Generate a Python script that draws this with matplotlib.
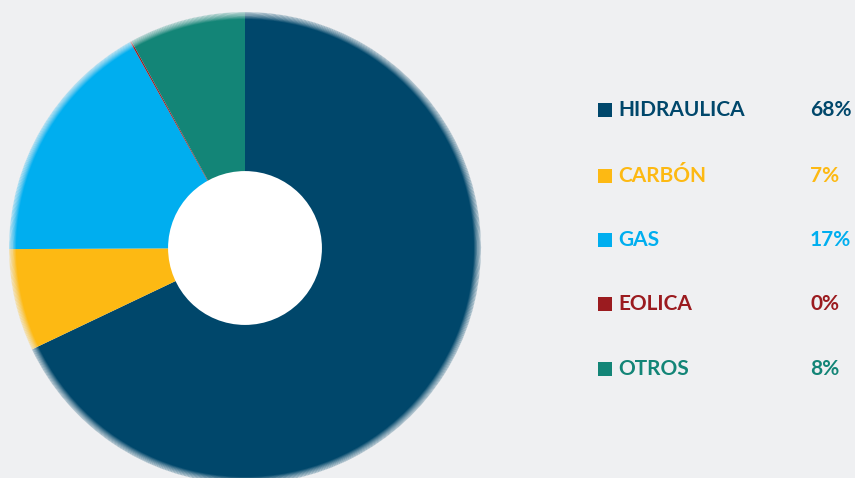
import numpy as np
import matplotlib.pyplot as plt
from matplotlib.patches import Wedge, Circle, Rectangle

# datos de la matriz de generación
fuentes = ['HIDRAULICA', 'CARBÓN', 'GAS', 'EOLICA', 'OTROS']
porcentajes = [68, 7, 17, 0.1, 8]
etiquetas_pct = ['68%', '7%', '17%', '0%', '8%']
colores = ['#00476b', '#fdb913', '#00aeef', '#9b1b1f', '#138577']

fondo = '#eff0f2'

fig = plt.figure(figsize=(8.55, 4.78), dpi=100)
fig.patch.set_facecolor(fondo)

# ejes de la dona: centro (245, 248) px, radio 236 px
W, H = 855, 478
cx, cy, r = 245, 248, 236
ax = fig.add_axes([(cx - r) / W, (H - cy - r) / H, 2 * r / W, 2 * r / H])

ax.pie(porcentajes, colors=colores, startangle=90, counterclock=False,
       radius=1.0, wedgeprops=dict(linewidth=0))

# borde difuminado
for i, rr in enumerate(np.linspace(0.97, 1.0, 10)):
    ax.add_patch(Wedge((0, 0), rr + 0.004, 0, 360, width=0.004,
                       facecolor=fondo, alpha=0.08 + 0.09 * i, linewidth=0))

ax.add_patch(Circle((0, 0), 0.326, facecolor='white', linewidth=0, zorder=5))

ax.set_xlim(-1, 1)
ax.set_ylim(-1, 1)
ax.set_aspect('equal')
ax.axis('off')

# leyenda
filas_y = [110, 176, 240, 304, 369]
for nombre, pct, col, y in zip(fuentes, etiquetas_pct, colores, filas_y):
    fy = 1 - y / H
    fig.patches.append(Rectangle((598 / W, fy - 7 / H), 14 / W, 14 / H,
                                 transform=fig.transFigure, facecolor=col,
                                 linewidth=0))
    fig.text(618 / W, fy, nombre, color=col, fontsize=15, family='Lato',
             fontweight='bold', va='center', ha='left')
    fig.text(810 / W, fy, pct, color=col, fontsize=15, family='Lato',
             fontweight='bold', va='center', ha='left')

fig.savefig('out.png', dpi=100, facecolor=fondo)
